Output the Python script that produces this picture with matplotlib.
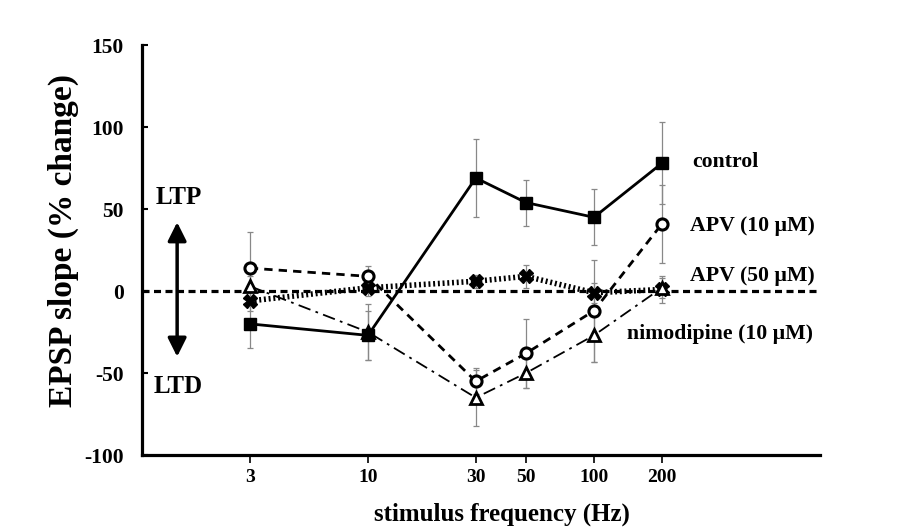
import numpy as np
import matplotlib.pyplot as plt
from matplotlib.ticker import FixedLocator, FixedFormatter, NullLocator

plt.rcParams['font.family'] = ['Liberation Serif', 'DejaVu Serif']
plt.rcParams['font.weight'] = 'bold'
plt.rcParams['axes.unicode_minus'] = False

# stimulus frequencies (Hz)
freq = [3, 10, 30, 50, 100, 200]

# EPSP slope (% change) and error bars
control = [-20, -27, 69, 54, 45, 78]
control_err = [15, 15, 24, 14, 17, 25]

apv10 = [14, 9, -55, -38, -12, 41]
apv10_err = [22, 6, 8, 21, 31, 24]

apv50 = [-6, 2, 6, 9, -1, 1]
apv50_err = [6, 5, 4, 7, 6, 8]

nimo = [3, -25, -65, -50, -27, 2]
nimo_err = [6, 17, 17, 9, 16, 6]

fig = plt.figure(figsize=(8.99, 5.31), dpi=100)
ax = fig.add_axes([0.158, 0.143, 0.754, 0.772])

ax.set_xscale('log')
ax.set_xlim(1, 1000)
ax.set_ylim(-100, 150)

grey = '#888888'
for y, e in [(control, control_err), (apv10, apv10_err), (apv50, apv50_err), (nimo, nimo_err)]:
    ax.errorbar(freq, y, yerr=e, fmt='none', ecolor=grey, elinewidth=0.9,
                capsize=2.5, capthick=0.9, zorder=1)

ax.axhline(0, color='black', lw=2.3, dashes=(2.2, 1.4), zorder=2)

ax.plot(freq, control, '-', color='black', lw=2.0, marker='s', ms=8,
        mfc='black', mec='black', zorder=5)
ax.plot(freq, apv10, color='black', lw=2.0, dashes=(3, 2.2), marker='o', ms=8,
        mfc='white', mec='black', mew=2.2, zorder=4)
ax.plot(freq, apv50, color='black', lw=4.0, dashes=(0.35, 0.5), marker='X', ms=10,
        mfc='black', mec='black', zorder=3)
ax.plot(freq, nimo, color='black', lw=1.3, dashes=(7, 3, 1.5, 3), marker='^', ms=8,
        mfc='white', mec='black', mew=2.0, zorder=3)

# series labels
yt = ax.get_yaxis_transform()
ax.text(0.811, 79, 'control', transform=yt, fontsize=15.7, fontweight='bold', va='center')
ax.text(0.808, 40, 'APV (10 \u03bcM)', transform=yt, fontsize=15.7, fontweight='bold', va='center')
ax.text(0.808, 9, 'APV (50 \u03bcM)', transform=yt, fontsize=15.7, fontweight='bold', va='center')
ax.text(0.715, -26, 'nimodipine (10 \u03bcM)', transform=yt, fontsize=15.7,
        fontweight='bold', va='center')

# LTP / LTD arrow
ax.annotate('', xy=(1.43, 42), xytext=(1.43, -40),
            arrowprops=dict(arrowstyle='<|-|>', color='black', lw=2.5,
                            mutation_scale=28, shrinkA=0, shrinkB=0))
ax.text(1.46, 57, 'LTP', ha='center', va='center', fontsize=18, fontweight='bold')
ax.text(1.44, -58, 'LTD', ha='center', va='center', fontsize=18, fontweight='bold')

ax.xaxis.set_major_locator(FixedLocator(freq))
ax.xaxis.set_major_formatter(FixedFormatter([str(f) for f in freq]))
ax.xaxis.set_minor_locator(NullLocator())
ax.set_yticks([-100, -50, 0, 50, 100, 150])

ax.spines['top'].set_visible(False)
ax.spines['right'].set_visible(False)
ax.spines['left'].set_linewidth(2.3)
ax.spines['bottom'].set_linewidth(2.3)
ax.tick_params(axis='y', direction='in', length=4, width=1.5, labelsize=15.5, pad=13)
ax.tick_params(axis='x', direction='out', length=6, width=1.2, labelsize=14, pad=4)
for lab in ax.get_xticklabels() + ax.get_yticklabels():
    lab.set_fontweight('bold')

ax.set_xlabel('stimulus frequency (Hz)', fontsize=18, fontweight='bold')
ax.set_ylabel('EPSP slope (% change)', fontsize=24, fontweight='bold')
ax.xaxis.set_label_coords(0.531, -0.115)
ax.yaxis.set_label_coords(-0.093, 0.524)

fig.savefig('out.png', dpi=100)
